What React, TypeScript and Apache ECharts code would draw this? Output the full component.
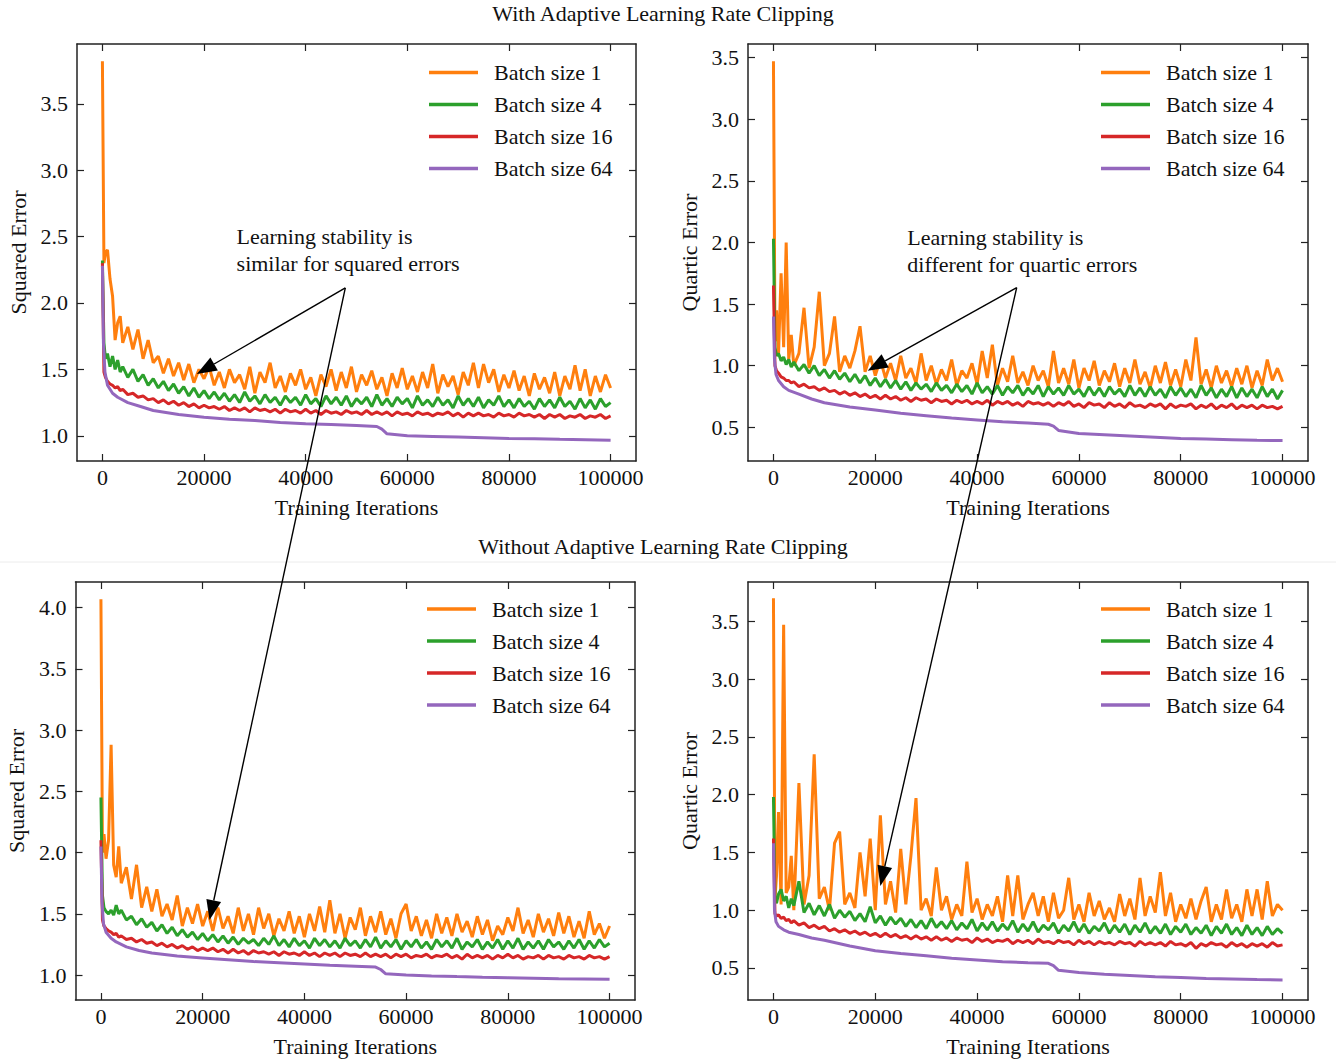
import React, { useEffect, useRef } from "react";
import * as echarts from "echarts";

// ---------- iteration grids ----------
const ITER_FINE = [
  0, 300, 600, 1000, 1500, 2000, 2500, 3000, 3500, 4000,
  5000, 6000, 7000, 8000, 9000, 10000, 11000, 12000, 13000, 14000,
  15000, 16000, 17000, 18000, 19000, 20000, 21000, 22000, 23000, 24000,
  25000, 26000, 27000, 28000, 29000, 30000, 31000, 32000, 33000, 34000,
  35000, 36000, 37000, 38000, 39000, 40000, 41000, 42000, 43000, 44000,
  45000, 46000, 47000, 48000, 49000, 50000, 51000, 52000, 53000, 54000,
  55000, 56000, 57000, 58000, 59000, 60000, 61000, 62000, 63000, 64000,
  65000, 66000, 67000, 68000, 69000, 70000, 71000, 72000, 73000, 74000,
  75000, 76000, 77000, 78000, 79000, 80000, 81000, 82000, 83000, 84000,
  85000, 86000, 87000, 88000, 89000, 90000, 91000, 92000, 93000, 94000,
  95000, 96000, 97000, 98000, 99000, 100000,
];
const ITER_COARSE = [
  0, 200, 500, 1000, 2000, 3000, 5000, 7500, 10000,
  15000, 20000, 25000, 30000, 35000, 40000, 45000, 50000,
  54000, 55000, 56000,
  60000, 65000, 70000, 75000, 80000, 85000, 90000, 95000, 100000,
];

// ---------- With clipping, squared error ----------
const CLIP_SQ_B1 = [
  3.82, 2.30, 2.38, 2.40, 2.18, 2.05, 1.72, 1.85, 1.90, 1.70,
  1.82, 1.65, 1.80, 1.58, 1.72, 1.55, 1.60, 1.47, 1.58, 1.45,
  1.55, 1.42, 1.54, 1.40, 1.50, 1.43, 1.52, 1.38, 1.48, 1.36,
  1.50, 1.40, 1.46, 1.35, 1.52, 1.32, 1.48, 1.40, 1.55, 1.36,
  1.45, 1.33, 1.47, 1.38, 1.50, 1.35, 1.44, 1.30, 1.46, 1.37,
  1.50, 1.34, 1.48, 1.36, 1.52, 1.33, 1.46, 1.38, 1.49, 1.35,
  1.44, 1.30, 1.47, 1.36, 1.51, 1.35, 1.45, 1.33, 1.48, 1.36,
  1.54, 1.32, 1.46, 1.37, 1.45, 1.31, 1.48, 1.38, 1.55, 1.36,
  1.54, 1.40, 1.50, 1.33, 1.46, 1.36, 1.49, 1.34, 1.45, 1.30,
  1.47, 1.35, 1.44, 1.32, 1.48, 1.30, 1.45, 1.35, 1.53, 1.34,
  1.50, 1.30, 1.45, 1.33, 1.46, 1.36,
];
const CLIP_SQ_B4 = [
  2.32, 1.70, 1.58, 1.62, 1.52, 1.60, 1.50, 1.57, 1.48, 1.52,
  1.44, 1.50, 1.41, 1.46, 1.38, 1.43, 1.36, 1.41, 1.34, 1.39,
  1.32, 1.37, 1.30, 1.36, 1.29, 1.34, 1.28, 1.33, 1.27, 1.32,
  1.26, 1.31, 1.25, 1.33, 1.26, 1.30, 1.24, 1.31, 1.25, 1.29,
  1.23, 1.30, 1.25, 1.29, 1.23, 1.31, 1.24, 1.28, 1.22, 1.30,
  1.24, 1.29, 1.23, 1.30, 1.22, 1.28, 1.24, 1.29, 1.22, 1.31,
  1.23, 1.28, 1.22, 1.29, 1.24, 1.28, 1.21, 1.30, 1.23, 1.27,
  1.22, 1.29, 1.23, 1.27, 1.21, 1.30, 1.23, 1.28, 1.22, 1.29,
  1.21, 1.27, 1.23, 1.30, 1.22, 1.27, 1.21, 1.28, 1.22, 1.26,
  1.20, 1.28, 1.22, 1.27, 1.21, 1.29, 1.22, 1.26, 1.20, 1.28,
  1.21, 1.27, 1.20, 1.28, 1.22, 1.25,
];
const CLIP_SQ_B16 = [
  2.30, 1.48, 1.44, 1.41, 1.39, 1.38, 1.36, 1.37, 1.34, 1.35,
  1.31, 1.32, 1.29, 1.30, 1.27, 1.28, 1.25, 1.27, 1.24, 1.26,
  1.23, 1.25, 1.22, 1.24, 1.21, 1.23, 1.21, 1.22, 1.20, 1.22,
  1.19, 1.21, 1.19, 1.21, 1.18, 1.21, 1.19, 1.20, 1.18, 1.20,
  1.17, 1.20, 1.18, 1.19, 1.17, 1.20, 1.17, 1.19, 1.16, 1.19,
  1.17, 1.18, 1.16, 1.19, 1.17, 1.18, 1.16, 1.19, 1.16, 1.18,
  1.16, 1.18, 1.15, 1.18, 1.16, 1.17, 1.15, 1.18, 1.16, 1.17,
  1.15, 1.17, 1.16, 1.18, 1.15, 1.17, 1.14, 1.17, 1.15, 1.17,
  1.15, 1.16, 1.14, 1.17, 1.15, 1.16, 1.14, 1.17, 1.15, 1.16,
  1.14, 1.16, 1.13, 1.16, 1.14, 1.16, 1.13, 1.15, 1.14, 1.16,
  1.13, 1.15, 1.14, 1.16, 1.13, 1.15,
];
const CLIP_SQ_B64 = [
  2.28, 1.70, 1.48, 1.38, 1.32, 1.29, 1.25, 1.22, 1.19,
  1.16, 1.14, 1.125, 1.115, 1.10, 1.09, 1.085, 1.078,
  1.07, 1.05, 1.015,
  1.0, 0.995, 0.99, 0.985, 0.98, 0.977, 0.973, 0.97, 0.967,
];

// ---------- With clipping, quartic error ----------
const CLIP_QU_B1 = [
  3.47, 1.20, 1.45, 1.10, 1.75, 1.15, 2.00, 1.05, 1.25, 1.00,
  1.10, 1.47, 0.98, 1.15, 1.60, 1.00, 1.10, 1.40, 0.95, 1.08,
  0.98, 1.12, 1.32, 0.95, 1.08, 0.92, 1.05, 0.90, 1.02, 0.88,
  1.08, 0.90, 0.98, 0.86, 1.10, 0.88, 1.00, 0.85, 0.97, 0.88,
  1.05, 0.84, 0.96, 0.90, 1.02, 0.85, 1.12, 0.90, 1.17, 0.84,
  0.98, 0.87, 1.08, 0.86, 0.95, 0.84, 1.00, 0.88, 0.96, 0.83,
  1.12, 0.86, 0.98, 0.85, 1.05, 0.82, 0.98, 0.88, 1.04, 0.84,
  0.96, 0.87, 1.02, 0.83, 0.98, 0.86, 1.05, 0.85, 0.95, 0.82,
  1.00, 0.86, 1.03, 0.84, 0.97, 0.83, 1.05, 0.88, 1.23, 0.85,
  0.97, 0.82, 1.00, 0.86, 0.96, 0.83, 0.98, 0.85, 1.00, 0.82,
  0.96, 0.84, 1.05, 0.88, 0.98, 0.87,
];
const CLIP_QU_B4 = [
  2.03, 1.15, 1.08, 1.10, 1.04, 1.07, 1.01, 1.05, 0.99, 1.03,
  0.96, 1.01, 0.94, 1.00, 0.92, 0.97, 0.90, 0.96, 0.89, 0.94,
  0.87, 0.93, 0.86, 0.92, 0.84, 0.90, 0.83, 0.89, 0.82, 0.88,
  0.81, 0.87, 0.80, 0.86, 0.81, 0.85, 0.79, 0.86, 0.80, 0.84,
  0.78, 0.85, 0.79, 0.84, 0.77, 0.86, 0.78, 0.83, 0.77, 0.84,
  0.76, 0.83, 0.78, 0.84, 0.76, 0.82, 0.77, 0.84, 0.75, 0.83,
  0.77, 0.82, 0.76, 0.84, 0.77, 0.81, 0.75, 0.83, 0.76, 0.82,
  0.75, 0.83, 0.77, 0.81, 0.75, 0.84, 0.76, 0.82, 0.75, 0.83,
  0.76, 0.81, 0.74, 0.83, 0.76, 0.82, 0.75, 0.81, 0.74, 0.84,
  0.76, 0.82, 0.74, 0.81, 0.75, 0.83, 0.74, 0.82, 0.75, 0.81,
  0.74, 0.83, 0.75, 0.81, 0.73, 0.80,
];
const CLIP_QU_B16 = [
  1.65, 1.00, 0.96, 0.94, 0.91, 0.90, 0.88, 0.88, 0.86, 0.87,
  0.83, 0.85, 0.82, 0.83, 0.80, 0.82, 0.79, 0.80, 0.77, 0.79,
  0.76, 0.78, 0.75, 0.77, 0.74, 0.76, 0.73, 0.76, 0.73, 0.75,
  0.72, 0.74, 0.71, 0.74, 0.72, 0.73, 0.70, 0.73, 0.71, 0.72,
  0.69, 0.72, 0.70, 0.72, 0.69, 0.71, 0.69, 0.72, 0.68, 0.71,
  0.69, 0.71, 0.68, 0.70, 0.67, 0.71, 0.69, 0.70, 0.68, 0.70,
  0.67, 0.70, 0.68, 0.71, 0.67, 0.69, 0.66, 0.70, 0.68, 0.69,
  0.66, 0.70, 0.67, 0.69, 0.66, 0.70, 0.67, 0.68, 0.66, 0.69,
  0.67, 0.69, 0.65, 0.69, 0.66, 0.68, 0.67, 0.69, 0.65, 0.68,
  0.66, 0.69, 0.65, 0.68, 0.66, 0.69, 0.65, 0.68, 0.66, 0.68,
  0.65, 0.68, 0.66, 0.67, 0.65, 0.67,
];
const CLIP_QU_B64 = [
  1.40, 1.05, 0.93, 0.88, 0.83, 0.80, 0.77, 0.73, 0.70,
  0.665, 0.64, 0.615, 0.595, 0.575, 0.56, 0.545, 0.535,
  0.525, 0.51, 0.475,
  0.45, 0.44, 0.43, 0.42, 0.41, 0.405, 0.40, 0.395, 0.393,
];

// ---------- Without clipping, squared error ----------
const NOCLIP_SQ_B1 = [
  4.07, 2.00, 2.15, 1.95, 2.10, 2.88, 1.90, 1.80, 2.05, 1.75,
  1.88, 1.62, 1.90, 1.55, 1.72, 1.52, 1.70, 1.48, 1.58, 1.45,
  1.65, 1.40, 1.55, 1.42, 1.58, 1.40, 1.52, 1.36, 1.55, 1.38,
  1.48, 1.34, 1.55, 1.36, 1.50, 1.33, 1.55, 1.38, 1.50, 1.32,
  1.46, 1.36, 1.52, 1.34, 1.48, 1.31, 1.50, 1.36, 1.56, 1.35,
  1.61, 1.34, 1.50, 1.30, 1.47, 1.37, 1.55, 1.32, 1.48, 1.35,
  1.52, 1.33, 1.46, 1.30, 1.50, 1.58, 1.36, 1.48, 1.32, 1.45,
  1.30, 1.50, 1.34, 1.47, 1.32, 1.50, 1.35, 1.44, 1.31, 1.48,
  1.33, 1.45, 1.28, 1.40, 1.33, 1.47, 1.36, 1.55, 1.34, 1.45,
  1.31, 1.50, 1.35, 1.46, 1.32, 1.51, 1.34, 1.48, 1.31, 1.44,
  1.30, 1.52, 1.33, 1.42, 1.30, 1.40,
];
const NOCLIP_SQ_B4 = [
  2.45, 1.65, 1.55, 1.52, 1.50, 1.53, 1.49, 1.57, 1.50, 1.53,
  1.45, 1.48, 1.41, 1.46, 1.39, 1.43, 1.36, 1.41, 1.34, 1.39,
  1.32, 1.37, 1.31, 1.35, 1.29, 1.34, 1.28, 1.33, 1.27, 1.32,
  1.26, 1.31, 1.25, 1.30, 1.26, 1.29, 1.24, 1.30, 1.25, 1.32,
  1.24, 1.29, 1.23, 1.30, 1.24, 1.28, 1.22, 1.30, 1.24, 1.29,
  1.23, 1.28, 1.22, 1.30, 1.24, 1.28, 1.22, 1.29, 1.23, 1.31,
  1.22, 1.28, 1.23, 1.29, 1.21, 1.28, 1.23, 1.29, 1.22, 1.27,
  1.21, 1.29, 1.23, 1.28, 1.22, 1.30, 1.21, 1.27, 1.23, 1.29,
  1.21, 1.27, 1.22, 1.29, 1.21, 1.28, 1.22, 1.30, 1.21, 1.27,
  1.22, 1.28, 1.21, 1.29, 1.23, 1.27, 1.21, 1.28, 1.22, 1.29,
  1.21, 1.28, 1.22, 1.29, 1.23, 1.26,
];
const NOCLIP_SQ_B16 = [
  2.10, 1.45, 1.40, 1.38, 1.36, 1.35, 1.33, 1.34, 1.31, 1.32,
  1.29, 1.30, 1.27, 1.29, 1.26, 1.27, 1.24, 1.26, 1.23, 1.25,
  1.22, 1.24, 1.21, 1.23, 1.20, 1.22, 1.20, 1.22, 1.19, 1.21,
  1.18, 1.21, 1.18, 1.20, 1.17, 1.20, 1.18, 1.19, 1.17, 1.19,
  1.16, 1.19, 1.17, 1.18, 1.16, 1.19, 1.16, 1.18, 1.15, 1.18,
  1.16, 1.18, 1.15, 1.18, 1.16, 1.17, 1.15, 1.18, 1.15, 1.17,
  1.15, 1.17, 1.14, 1.17, 1.15, 1.17, 1.14, 1.16, 1.15, 1.17,
  1.14, 1.16, 1.15, 1.17, 1.14, 1.16, 1.13, 1.17, 1.14, 1.16,
  1.14, 1.16, 1.13, 1.16, 1.14, 1.17, 1.14, 1.16, 1.13, 1.15,
  1.14, 1.16, 1.13, 1.16, 1.14, 1.15, 1.13, 1.16, 1.14, 1.15,
  1.13, 1.16, 1.14, 1.15, 1.13, 1.15,
];
const NOCLIP_SQ_B64 = [
  2.05, 1.60, 1.42, 1.35, 1.30, 1.27, 1.23, 1.20, 1.18,
  1.155, 1.14, 1.125, 1.11, 1.10, 1.09, 1.08, 1.072,
  1.065, 1.045, 1.01,
  1.0, 0.993, 0.987, 0.982, 0.978, 0.974, 0.97, 0.968, 0.965,
];

// ---------- Without clipping, quartic error ----------
const NOCLIP_QU_B1 = [
  3.70, 1.10, 1.30, 1.85, 1.05, 3.47, 1.15, 1.20, 1.47, 1.00,
  2.10, 1.05, 1.30, 2.35, 1.10, 1.20, 1.00, 1.58, 1.68, 1.05,
  1.15, 1.02, 1.50, 1.12, 1.62, 1.00, 1.82, 1.05, 1.25, 0.98,
  1.53, 1.05, 1.47, 1.97, 1.00, 1.10, 0.95, 1.37, 1.00, 1.12,
  0.92, 1.05, 0.95, 1.42, 0.98, 1.10, 0.92, 1.05, 0.95, 1.12,
  0.90, 1.30, 0.95, 1.30, 0.92, 1.05, 1.15, 0.95, 1.12, 0.90,
  1.15, 0.93, 1.00, 1.28, 0.92, 1.05, 0.90, 1.15, 0.95, 1.08,
  0.92, 1.02, 0.90, 1.14, 0.95, 1.10, 0.92, 1.28, 0.95, 1.12,
  0.98, 1.33, 0.95, 1.15, 0.90, 1.05, 0.93, 1.10, 0.92, 1.08,
  1.20, 0.90, 1.05, 0.92, 1.18, 0.93, 1.05, 0.90, 1.18, 0.95,
  1.18, 0.92, 1.25, 0.95, 1.05, 1.00,
];
const NOCLIP_QU_B4 = [
  1.98, 1.10, 1.06, 1.14, 1.18, 1.08, 1.12, 1.02, 1.10, 1.04,
  1.25, 0.98, 1.06, 0.96, 1.04, 0.95, 1.05, 0.93, 1.00, 0.94,
  0.99, 0.91, 0.97, 0.90, 1.03, 0.89, 0.95, 0.87, 0.94, 0.88,
  0.93, 0.86, 0.92, 0.85, 0.91, 0.84, 0.93, 0.85, 0.90, 0.84,
  0.91, 0.83, 0.89, 0.84, 0.92, 0.82, 0.89, 0.83, 0.90, 0.82,
  0.88, 0.83, 0.91, 0.81, 0.88, 0.82, 0.90, 0.81, 0.87, 0.83,
  0.89, 0.80, 0.87, 0.82, 0.90, 0.81, 0.88, 0.80, 0.86, 0.82,
  0.89, 0.80, 0.87, 0.81, 0.88, 0.79, 0.87, 0.81, 0.89, 0.80,
  0.86, 0.80, 0.88, 0.79, 0.86, 0.81, 0.88, 0.79, 0.85, 0.80,
  0.87, 0.78, 0.86, 0.80, 0.88, 0.79, 0.85, 0.78, 0.87, 0.79,
  0.85, 0.78, 0.86, 0.79, 0.84, 0.80,
];
const NOCLIP_QU_B16 = [
  1.62, 0.97, 0.95, 0.96, 0.93, 0.94, 0.91, 0.92, 0.89, 0.91,
  0.87, 0.89, 0.85, 0.87, 0.84, 0.86, 0.82, 0.84, 0.81, 0.83,
  0.80, 0.82, 0.79, 0.81, 0.78, 0.80, 0.77, 0.80, 0.77, 0.79,
  0.76, 0.78, 0.75, 0.78, 0.75, 0.77, 0.74, 0.77, 0.74, 0.76,
  0.73, 0.76, 0.74, 0.75, 0.72, 0.76, 0.73, 0.75, 0.72, 0.74,
  0.73, 0.75, 0.71, 0.74, 0.72, 0.74, 0.71, 0.75, 0.72, 0.73,
  0.71, 0.74, 0.72, 0.73, 0.70, 0.74, 0.71, 0.73, 0.70, 0.73,
  0.71, 0.72, 0.70, 0.73, 0.71, 0.72, 0.69, 0.73, 0.70, 0.72,
  0.70, 0.72, 0.69, 0.73, 0.70, 0.71, 0.69, 0.72, 0.67, 0.71,
  0.69, 0.72, 0.70, 0.71, 0.68, 0.72, 0.69, 0.71, 0.68, 0.71,
  0.69, 0.71, 0.68, 0.72, 0.69, 0.70,
];
const NOCLIP_QU_B64 = [
  1.58, 1.00, 0.90, 0.86, 0.83, 0.81, 0.79, 0.76, 0.74,
  0.69, 0.65, 0.625, 0.605, 0.585, 0.57, 0.555, 0.545,
  0.54, 0.52, 0.48,
  0.46, 0.445, 0.435, 0.425, 0.418, 0.41, 0.405, 0.40, 0.397,
];

// ---------- ticks & labels ----------
const X_TICKS = [0, 20000, 40000, 60000, 80000, 100000];
const Y_TICKS_SQ_CLIP = [1.0, 1.5, 2.0, 2.5, 3.0, 3.5];
const Y_TICKS_QU_CLIP = [0.5, 1.0, 1.5, 2.0, 2.5, 3.0, 3.5];
const Y_TICKS_SQ_NOCLIP = [1.0, 1.5, 2.0, 2.5, 3.0, 3.5, 4.0];
const Y_TICKS_QU_NOCLIP = [0.5, 1.0, 1.5, 2.0, 2.5, 3.0, 3.5];
const SERIES_NAMES = ["Batch size 1", "Batch size 4", "Batch size 16", "Batch size 64"];
const TITLE_TOP = "With Adaptive Learning Rate Clipping";
const TITLE_BOTTOM = "Without Adaptive Learning Rate Clipping";
const X_NAME = "Training Iterations";

// annotation anchors in data coordinates [panel, x, y]
const ANNOTATIONS = [
  {
    text: ["Learning stability is", "similar for squared errors"],
    textAt: [0, 26400, 2.497],
    from: [0, 47800, 2.113],
    tips: [[0, 18580, 1.465], [2, 21350, 1.449]],
  },
  {
    text: ["Learning stability is", "different for quartic errors"],
    textAt: [1, 26300, 2.044],
    from: [1, 47780, 1.633],
    tips: [[1, 18510, 0.96], [3, 21000, 1.21]],
  },
];

// ---------- styling ----------
const COLORS = ["#ff7f0e", "#2ca02c", "#d62728", "#9467bd"];
const FONT = "'Liberation Serif', 'Times New Roman', serif";
const TXT = "#111";
const FRAME = "#222";

const PANELS = [
  {
    grid: { left: 77, top: 44, width: 559, height: 417 },
    yName: "Squared Error", yMin: 0.81, yMax: 3.95, yTicks: Y_TICKS_SQ_CLIP,
    data: [CLIP_SQ_B1, CLIP_SQ_B4, CLIP_SQ_B16, CLIP_SQ_B64],
    legend: { left: 429, top: 61.6 },
  },
  {
    grid: { left: 748, top: 44, width: 560, height: 417 },
    yName: "Quartic Error", yMin: 0.227, yMax: 3.61, yTicks: Y_TICKS_QU_CLIP,
    data: [CLIP_QU_B1, CLIP_QU_B4, CLIP_QU_B16, CLIP_QU_B64],
    legend: { left: 1101, top: 61.6 },
  },
  {
    grid: { left: 75.5, top: 582, width: 559.5, height: 418 },
    yName: "Squared Error", yMin: 0.796, yMax: 4.21, yTicks: Y_TICKS_SQ_NOCLIP,
    data: [NOCLIP_SQ_B1, NOCLIP_SQ_B4, NOCLIP_SQ_B16, NOCLIP_SQ_B64],
    legend: { left: 427, top: 598 },
  },
  {
    grid: { left: 748, top: 582, width: 560, height: 418 },
    yName: "Quartic Error", yMin: 0.223, yMax: 3.84, yTicks: Y_TICKS_QU_NOCLIP,
    data: [NOCLIP_QU_B1, NOCLIP_QU_B4, NOCLIP_QU_B16, NOCLIP_QU_B64],
    legend: { left: 1101, top: 598 },
  },
];

const ITER_FOR_SERIES = [ITER_FINE, ITER_FINE, ITER_FINE, ITER_COARSE];

function pairs(xs: number[], ys: number[]) {
  return xs.map((x, i) => [x, ys[i]]);
}

function buildOption() {
  const grid: any[] = [];
  const xAxis: any[] = [];
  const yAxis: any[] = [];
  const series: any[] = [];
  const legend: any[] = [];
  const lineStyle = { color: FRAME, width: 1.5 };
  const tickStyle = { color: FRAME, width: 1.2 };

  PANELS.forEach((p, g) => {
    grid.push({ ...p.grid, containLabel: false });
    const xBase = {
      type: "value", gridIndex: g, min: -5000, max: 105000,
      splitLine: { show: false },
      axisLine: { show: true, onZero: false, lineStyle },
      axisTick: { show: true, inside: true, length: 7, lineStyle: tickStyle, customValues: X_TICKS },
    };
    xAxis.push({
      ...xBase, position: "bottom",
      axisLabel: {
        show: true, customValues: X_TICKS, formatter: (v: number) => String(v),
        margin: 5, fontSize: 22, fontFamily: FONT, color: TXT,
      },
      name: X_NAME, nameLocation: "middle", nameGap: 35,
      nameTextStyle: { fontSize: 22, fontFamily: FONT, color: TXT },
    });
    xAxis.push({ ...xBase, position: "top", axisLabel: { show: false } });
    const yBase = {
      type: "value", gridIndex: g, min: p.yMin, max: p.yMax,
      splitLine: { show: false },
      axisLine: { show: true, onZero: false, lineStyle },
      axisTick: { show: true, inside: true, length: 7, lineStyle: tickStyle, customValues: p.yTicks },
    };
    yAxis.push({
      ...yBase, position: "left",
      axisLabel: {
        show: true, customValues: p.yTicks, formatter: (v: number) => v.toFixed(1),
        margin: 9, fontSize: 22, fontFamily: FONT, color: TXT,
      },
      name: p.yName, nameLocation: "middle", nameRotate: 90, nameGap: 48,
      nameTextStyle: { fontSize: 22, fontFamily: FONT, color: TXT },
    });
    yAxis.push({ ...yBase, position: "right", axisLabel: { show: false } });

    p.data.forEach((ys, k) => {
      series.push({
        type: "line",
        name: SERIES_NAMES[k],
        xAxisIndex: 2 * g,
        yAxisIndex: 2 * g,
        data: pairs(ITER_FOR_SERIES[k], ys),
        showSymbol: false,
        symbol: "none",
        color: COLORS[k],
        lineStyle: { width: 3, color: COLORS[k] },
        z: 2 + k,
      });
    });

    legend.push({
      orient: "vertical",
      left: p.legend.left,
      top: p.legend.top,
      padding: 0,
      itemWidth: 49,
      itemHeight: 3.5,
      itemGap: 10,
      icon: "rect",
      selectedMode: false,
      data: SERIES_NAMES,
      textStyle: {
        fontSize: 22, fontFamily: FONT, color: TXT, lineHeight: 22,
        padding: [0, 0, 0, 11],
      },
    });
  });

  return { animation: false, backgroundColor: "#fff", grid, xAxis, yAxis, series, legend };
}

export default function App() {
  const ref = useRef<HTMLDivElement>(null);
  useEffect(() => {
    if (!ref.current) return;
    const chart = echarts.init(ref.current, undefined, { renderer: "svg" });
    chart.setOption(buildOption() as any);

    const toPx = (pt: number[]) =>
      chart.convertToPixel({ xAxisIndex: 2 * pt[0], yAxisIndex: 2 * pt[0] } as any, [pt[1], pt[2]]) as number[];

    const elements: any[] = [];
    elements.push({
      type: "line", z: 50,
      shape: { x1: 0, y1: 562, x2: 1336, y2: 562 },
      style: { stroke: "#ececec", lineWidth: 1 },
    });
    elements.push({
      type: "text", z: 50, x: 663, y: 13,
      style: { text: TITLE_TOP, font: `22px ${FONT}`, fill: TXT, textAlign: "center", textVerticalAlign: "middle" },
    });
    elements.push({
      type: "text", z: 50, x: 663, y: 546,
      style: { text: TITLE_BOTTOM, font: `22px ${FONT}`, fill: TXT, textAlign: "center", textVerticalAlign: "middle" },
    });

    ANNOTATIONS.forEach((a) => {
      const t = toPx(a.textAt);
      a.text.forEach((line, i) => {
        elements.push({
          type: "text", z: 100, x: t[0], y: t[1] + i * 27,
          style: { text: line, font: `22px ${FONT}`, fill: TXT, textAlign: "left", textVerticalAlign: "middle" },
        });
      });
      const o = toPx(a.from);
      a.tips.forEach((tip) => {
        const e = toPx(tip);
        const dx = e[0] - o[0];
        const dy = e[1] - o[1];
        const len = Math.sqrt(dx * dx + dy * dy);
        const ux = dx / len;
        const uy = dy / len;
        const headL = 20;
        const headW = 15;
        const bx = e[0] - ux * headL;
        const by = e[1] - uy * headL;
        const px = -uy;
        const py = ux;
        elements.push({
          type: "line", z: 100,
          shape: { x1: o[0], y1: o[1], x2: bx, y2: by },
          style: { stroke: "#000", lineWidth: 1.4 },
        });
        elements.push({
          type: "polygon", z: 101,
          shape: {
            points: [
              [e[0], e[1]],
              [bx + (px * headW) / 2, by + (py * headW) / 2],
              [bx - (px * headW) / 2, by - (py * headW) / 2],
            ],
          },
          style: { fill: "#000" },
        });
      });
    });

    chart.setOption({ graphic: { elements } } as any);
    return () => chart.dispose();
  }, []);

  return (
    <div
      ref={ref}
      style={{ position: "absolute", left: 0, top: 0, width: 1336, height: 1063, background: "#fff" }}
    />
  );
}
